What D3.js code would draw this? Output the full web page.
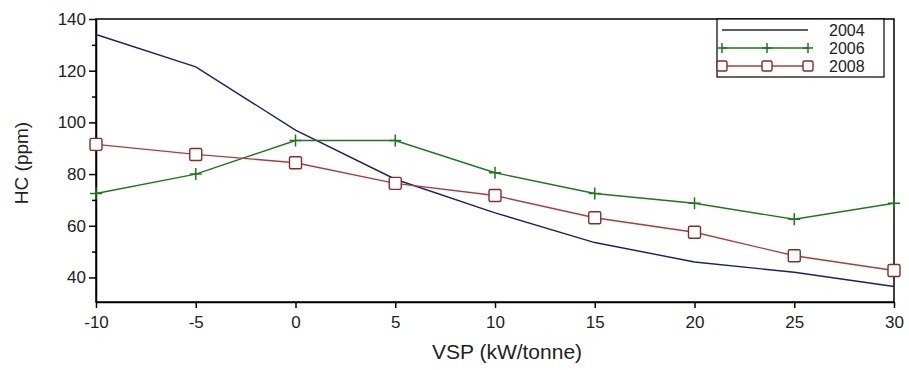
<!DOCTYPE html>
<html>
<head>
<meta charset="utf-8">
<script src="https://cdn.jsdelivr.net/npm/d3@7"></script>
<style>
  html, body { margin: 0; padding: 0; background: #fff; }
  svg { display: block; font-family: "Liberation Sans", Arial, sans-serif; }
</style>
</head>
<body>
<svg id="chart" width="909" height="370"></svg>
<script>
// VSP bins (kW/tonne)
const vsp = [-10, -5, 0, 5, 10, 15, 20, 25, 30];
// Mean HC concentration (ppm) per model year
const hc2004 = [134, 121.5, 97, 78, 65, 53.5, 46, 42, 36.5];
const hc2006 = [72.5, 80, 93, 93, 80.5, 72.5, 68.7, 62.5, 68.7];
const hc2008 = [91.5, 87.6, 84.4, 76.4, 71.7, 63.1, 57.5, 48.4, 42.7];
const seriesNames = ["2004", "2006", "2008"];
const xTicks = [-10, -5, 0, 5, 10, 15, 20, 25, 30];
const yTicks = [40, 60, 80, 100, 120, 140];
const yMinor = [50, 70, 90, 110, 130];

const W = 909, H = 370;
const margin = { top: 19, right: 15, bottom: 68, left: 96 };
const svg = d3.select("#chart");

const x = d3.scaleLinear().domain([-10, 30]).range([margin.left, W - margin.right]);
const y = d3.scaleLinear().domain([30.5, 140]).range([H - margin.bottom, margin.top]);

const styles = {
  "2004": { color: "#1c1c78", marker: "none" },
  "2006": { color: "#1a7a1a", marker: "plus" },
  "2008": { color: "#b03a3a", marker: "square" }
};
const series = [
  { name: "2004", values: hc2004 },
  { name: "2006", values: hc2006 },
  { name: "2008", values: hc2008 }
];

// plain hyphen for negative tick labels
const fmt = d => String(d);

// plot frame
svg.append("rect")
  .attr("x", margin.left).attr("y", margin.top)
  .attr("width", W - margin.left - margin.right)
  .attr("height", H - margin.top - margin.bottom)
  .attr("fill", "none").attr("stroke", "#000").attr("stroke-width", 1.5);

// axes
const xAxis = svg.append("g")
  .attr("transform", `translate(0,${H - margin.bottom})`)
  .call(d3.axisBottom(x).tickValues(xTicks).tickSize(6).tickSizeOuter(0).tickFormat(fmt));
const yAxis = svg.append("g")
  .attr("transform", `translate(${margin.left},0)`)
  .call(d3.axisLeft(y).tickValues(yTicks).tickSize(7).tickSizeOuter(0).tickFormat(fmt));
svg.append("g")
  .attr("transform", `translate(${margin.left},0)`)
  .call(d3.axisLeft(y).tickValues(yMinor).tickSize(4).tickSizeOuter(0).tickFormat(""))
  .select(".domain").remove();

[xAxis, yAxis].forEach(g => {
  g.select(".domain").attr("stroke-width", 1.5);
  g.selectAll("text").attr("font-size", 17).attr("fill", "#222");
});
xAxis.selectAll("text").attr("dy", "1.0em");
svg.selectAll(".tick line").attr("stroke-width", 1.5);

// axis titles
svg.append("text")
  .attr("x", 507).attr("y", 359)
  .attr("text-anchor", "middle").attr("font-size", 21).attr("fill", "#222")
  .text("VSP (kW/tonne)");
svg.append("text")
  .attr("transform", `translate(28,163) rotate(-90)`)
  .attr("text-anchor", "middle").attr("font-size", 19).attr("fill", "#222")
  .text("HC (ppm)");

function drawMarker(g, type, color, cx, cy, r) {
  if (type === "plus") {
    g.append("path")
      .attr("d", `M${cx - r},${cy}H${cx + r}M${cx},${cy - r}V${cy + r}`)
      .attr("stroke", color).attr("stroke-width", 1.5).attr("fill", "none");
  } else if (type === "square") {
    g.append("rect")
      .attr("x", cx - r).attr("y", cy - r).attr("width", 2 * r).attr("height", 2 * r)
      .attr("rx", 1.5)
      .attr("fill", "#fff").attr("stroke", "#8a2a2a").attr("stroke-width", 1.4);
  }
}

const line = d3.line().x((d, i) => x(vsp[i])).y(d => y(d));
const plot = svg.append("g");
series.forEach(s => {
  const st = styles[s.name];
  plot.append("path")
    .datum(s.values)
    .attr("d", line)
    .attr("fill", "none").attr("stroke", st.color).attr("stroke-width", 1.4);
  const mg = plot.append("g");
  s.values.forEach((v, i) => drawMarker(mg, st.marker, st.color, x(vsp[i]), y(v), 6));
});

// legend
const lg = svg.append("g");
const lx0 = 717, ly0 = 19, lw = 167, rowH = 18;
lg.append("rect")
  .attr("x", lx0).attr("y", ly0).attr("width", lw).attr("height", rowH * seriesNames.length + 4)
  .attr("fill", "#fff").attr("stroke", "#000").attr("stroke-width", 1.2);
seriesNames.forEach((name, i) => {
  const st = styles[name];
  const cy = ly0 + 11 + i * rowH;
  const xs = [722, 767, 808];
  lg.append("line")
    .attr("x1", xs[0]).attr("x2", xs[2]).attr("y1", cy).attr("y2", cy)
    .attr("stroke", st.color).attr("stroke-width", 1.4);
  xs.forEach(px => drawMarker(lg, st.marker, st.color, px, cy, 5));
  lg.append("text")
    .attr("x", 829).attr("y", cy).attr("dy", "0.36em")
    .attr("font-size", 16).attr("fill", "#222")
    .text(name);
});
</script>
</body>
</html>
